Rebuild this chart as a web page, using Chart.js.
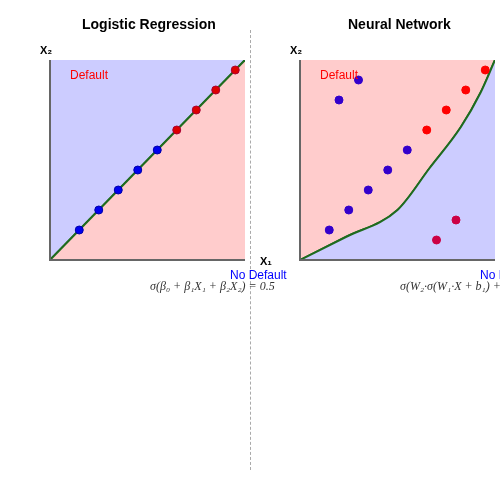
<!DOCTYPE html>
<html><head><meta charset="utf-8">
<script src="https://cdn.jsdelivr.net/npm/chart.js@4"></script>
<style>
body{margin:0;width:500px;height:500px;position:relative;background:#fff;font-family:"Liberation Sans",Arial,sans-serif;overflow:hidden}
canvas{position:absolute;top:0}
.t{position:absolute;white-space:nowrap}
</style></head><body>
<canvas id="c1" style="left:0;width:250px;height:500px" width="250" height="500"></canvas>
<canvas id="c2" style="left:250px;width:250px;height:500px" width="250" height="500"></canvas>
<div class="t" style="left:250px;top:30px;height:440px;border-left:1.5px dashed #aaa"></div>
<div class="t" style="left:82px;top:16px;font-weight:bold;font-size:14px">Logistic Regression</div>
<div class="t" style="left:348px;top:16px;font-weight:bold;font-size:14px">Neural Network</div>
<div class="t" style="left:40px;top:44px;font-weight:bold;font-size:11px">X₂</div>
<div class="t" style="left:290px;top:44px;font-weight:bold;font-size:11px">X₂</div>
<div class="t" style="left:260px;top:255px;font-weight:bold;font-size:11px">X₁</div>
<div class="t" style="left:70px;top:68px;color:red;font-size:12px">Default</div>
<div class="t" style="left:320px;top:68px;color:red;font-size:12px">Default</div>
<div class="t" style="left:230px;top:268px;color:blue;font-size:12px">No Default</div>
<div class="t" style="left:480px;top:268px;color:blue;font-size:12px">No Default</div>
<div class="t" style="left:150px;top:279px;font-style:italic;font-family:'Liberation Serif',serif;font-size:12px;color:#333">σ(β₀ + β₁X₁ + β₂X₂) = 0.5</div>
<div class="t" style="left:400px;top:279px;font-style:italic;font-family:'Liberation Serif',serif;font-size:12px;color:#333">σ(W₂·σ(W₁·X + b₁) + b₂) = 0.5</div>
<script>
const lrBoundary=[{x:0,y:0},{x:10,y:10}];
const lrBlue=[{x:1.5,y:1.5},{x:2.5,y:2.5},{x:3.5,y:3.5},{x:4.5,y:4.5},{x:5.5,y:5.5}];
const lrRed=[{x:6.5,y:6.5},{x:7.5,y:7.5},{x:8.5,y:8.5},{x:9.5,y:9.5}];
const nnBoundary=[{x:0,y:0},{x:2.35,y:1.15},{x:5,y:2.5},{x:6.65,y:4.6},{x:8.25,y:6.65},{x:9.25,y:8.35},{x:10,y:10}];
const nnBlue=[{x:2,y:8},{x:3,y:9},{x:1.5,y:1.5},{x:2.5,y:2.5},{x:3.5,y:3.5},{x:4.5,y:4.5},{x:5.5,y:5.5}];
const nnRed=[{x:6.5,y:6.5},{x:7.5,y:7.5},{x:8.5,y:8.5},{x:9.5,y:9.5}];
const nnCrimson=[{x:7,y:1},{x:8,y:2}];
const BLUE='#ccccff',PINK='#ffcccc',GREEN='#1f6b1f';
const axes={id:'axes',afterDatasetsDraw(c){const a=c.chartArea,x=c.ctx;x.save();x.strokeStyle='#666';x.lineWidth=2;x.beginPath();x.moveTo(a.left,a.top);x.lineTo(a.left,a.bottom);x.lineTo(a.right,a.bottom);x.stroke();x.restore();}};
function make(id,boundary,above,below,pts,mode){
  const base={type:'line',data:boundary,borderColor:GREEN,borderWidth:2,pointRadius:0,cubicInterpolationMode:mode};
  const ds=[
    Object.assign({},base,{fill:{target:'end'},backgroundColor:above,order:3}),
    Object.assign({},base,{fill:{target:'start'},backgroundColor:below,order:2})
  ];
  pts.forEach(p=>ds.push({type:'scatter',data:p[0],backgroundColor:p[1],borderColor:p[2],borderWidth:1,pointRadius:4,order:1}));
  new Chart(document.getElementById(id),{data:{datasets:ds},options:{
    responsive:false,animation:false,layout:{padding:{left:50,right:0,top:60,bottom:240}},
    plugins:{legend:{display:false},tooltip:{enabled:false}},
    scales:{x:{type:'linear',min:0,max:10,display:false},y:{type:'linear',min:0,max:10,display:false}}},
    plugins:[axes]});
}
make('c1',lrBoundary,BLUE,PINK,[[lrBlue,'#0000ee','#0000aa'],[lrRed,'#dd0000','#aa0033']],'default');
make('c2',nnBoundary,PINK,BLUE,[[nnBlue,'#3300cc','#3300cc'],[nnRed,'#ff0000','#ff0000'],[nnCrimson,'#cc0044','#cc0044']],'monotone');
</script></body></html>
